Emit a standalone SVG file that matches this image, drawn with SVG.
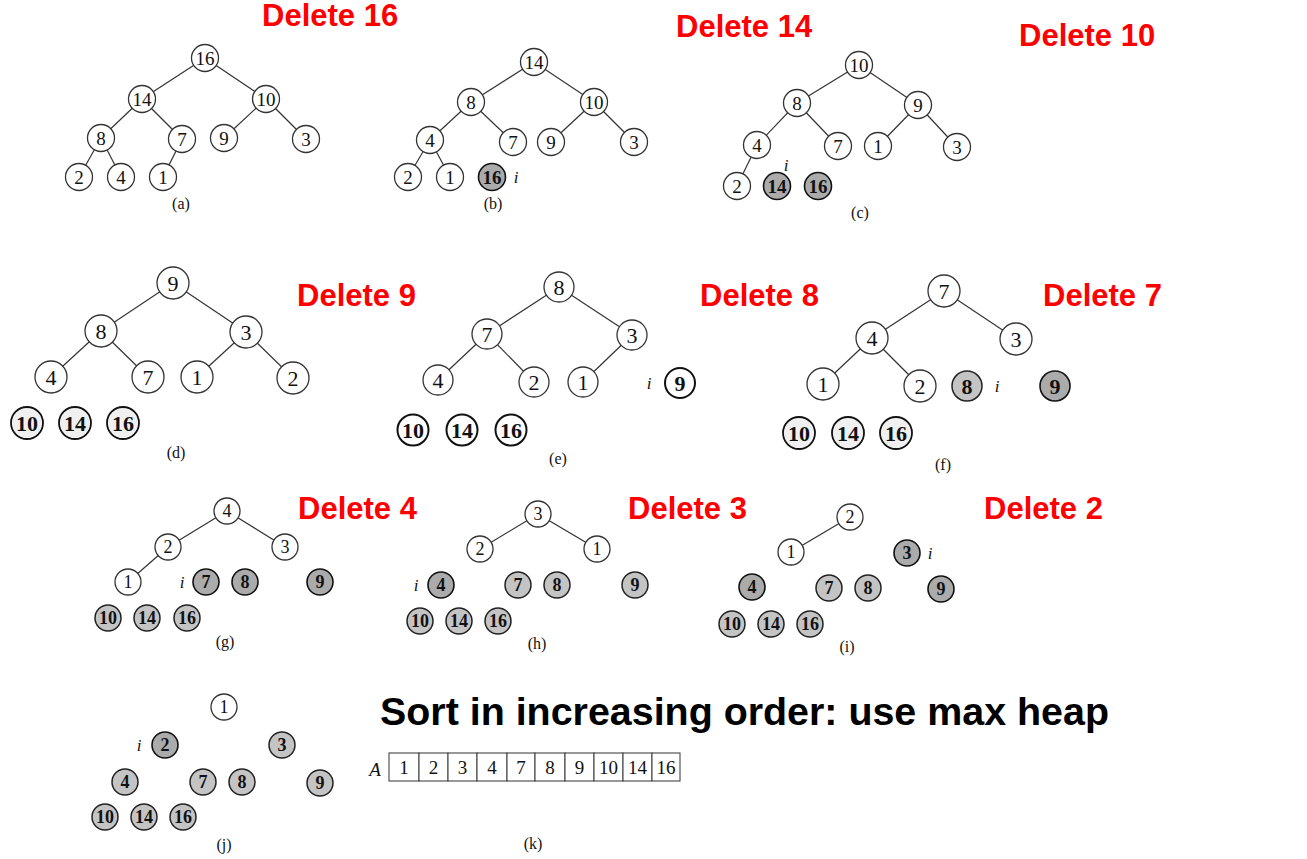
<svg xmlns="http://www.w3.org/2000/svg" width="1307" height="859" viewBox="0 0 1307 859">
<style>
.bg{fill:#fff}
.n circle{fill:#fff;stroke:#333;stroke-width:1.3}
.s circle{fill:#c4c4c4;stroke:#222;stroke-width:1.5}
.k circle{fill:#ababab;stroke:#111;stroke-width:1.6}
.l circle{fill:#f0f0f0;stroke:#111;stroke-width:1.8}
.w circle{fill:#fff;stroke:#111;stroke-width:2}
text{font-family:"Liberation Serif","Times New Roman",serif;text-anchor:middle;fill:#111}
.m text{font-size:19px}
.L text{font-size:22px}
.G text{font-size:18px}
.s text,.k text,.l text,.w text{font-weight:bold}
.lab{font-size:16px}
.it{font-style:italic;font-size:17px}
.red{font-family:"Liberation Sans",Arial,sans-serif;font-weight:bold;font-size:31px;fill:#f00;text-anchor:start}
.big{font-family:"Liberation Sans",Arial,sans-serif;font-weight:bold;font-size:39.4px;fill:#000;text-anchor:start}
#edges line{stroke:#333;stroke-width:1.2}
.cell{fill:#fff;stroke:#444;stroke-width:1.1}
.arr text{font-size:19px}
</style>
<rect class="bg" width="1307" height="859"/>

<text class="red" x="262" y="26">Delete 16</text>
<text class="red" x="676" y="37">Delete 14</text>
<text class="red" x="1019" y="46">Delete 10</text>
<text class="red" x="297" y="306">Delete 9</text>
<text class="red" x="700" y="306">Delete 8</text>
<text class="red" x="1043" y="306">Delete 7</text>
<text class="red" x="298" y="519">Delete 4</text>
<text class="red" x="628" y="519">Delete 3</text>
<text class="red" x="984" y="519">Delete 2</text>
<text class="big" x="380" y="725">Sort in increasing order: use max heap</text>

<g id="edges">
<!-- a -->
<line x1="205" y1="58" x2="142" y2="99"/><line x1="205" y1="58" x2="266" y2="99"/>
<line x1="142" y1="99" x2="101" y2="138"/><line x1="142" y1="99" x2="182" y2="139"/>
<line x1="266" y1="99" x2="224" y2="138"/><line x1="266" y1="99" x2="306" y2="139"/>
<line x1="101" y1="138" x2="79" y2="177"/><line x1="101" y1="138" x2="121" y2="177"/>
<line x1="182" y1="139" x2="163" y2="177"/>
<!-- b -->
<line x1="534" y1="62" x2="471" y2="102"/><line x1="534" y1="62" x2="594" y2="102"/>
<line x1="471" y1="102" x2="430" y2="140"/><line x1="471" y1="102" x2="513" y2="142"/>
<line x1="594" y1="102" x2="551" y2="142"/><line x1="594" y1="102" x2="634" y2="142"/>
<line x1="430" y1="140" x2="408" y2="177"/><line x1="430" y1="140" x2="450" y2="177"/>
<!-- c -->
<line x1="859" y1="65" x2="797" y2="103"/><line x1="859" y1="65" x2="918" y2="105"/>
<line x1="797" y1="103" x2="757" y2="145"/><line x1="797" y1="103" x2="838" y2="146"/>
<line x1="918" y1="105" x2="878" y2="146"/><line x1="918" y1="105" x2="957" y2="147"/>
<line x1="757" y1="145" x2="737" y2="186"/>
<!-- d -->
<line x1="173" y1="283" x2="101" y2="331"/><line x1="173" y1="283" x2="246" y2="332"/>
<line x1="101" y1="331" x2="51" y2="377"/><line x1="101" y1="331" x2="148" y2="377"/>
<line x1="246" y1="332" x2="197" y2="377"/><line x1="246" y1="332" x2="293" y2="378"/>
<!-- e -->
<line x1="559" y1="287" x2="487" y2="334"/><line x1="559" y1="287" x2="632" y2="335"/>
<line x1="487" y1="334" x2="438" y2="380"/><line x1="487" y1="334" x2="534" y2="382"/>
<line x1="632" y1="335" x2="583" y2="382"/>
<!-- f -->
<line x1="944" y1="291" x2="872" y2="338"/><line x1="944" y1="291" x2="1016" y2="339"/>
<line x1="872" y1="338" x2="823" y2="384"/><line x1="872" y1="338" x2="920" y2="386"/>
<!-- g -->
<line x1="227" y1="511" x2="168" y2="547"/><line x1="227" y1="511" x2="285" y2="547"/>
<line x1="168" y1="547" x2="128" y2="582"/>
<!-- h -->
<line x1="538" y1="514" x2="480" y2="549"/><line x1="538" y1="514" x2="597" y2="549"/>
<!-- i -->
<line x1="850" y1="517" x2="791" y2="552"/>
</g>

<!-- panel a -->
<g class="m">
<g id="a16" class="n"><circle cx="205" cy="58" r="13.5"/><text x="205" y="64.5">16</text></g>
<g id="a14" class="n"><circle cx="142" cy="99" r="13.5"/><text x="142" y="105.5">14</text></g>
<g id="a10" class="n"><circle cx="266" cy="99" r="13.5"/><text x="266" y="105.5">10</text></g>
<g id="a8" class="n"><circle cx="101" cy="138" r="13.5"/><text x="101" y="144.5">8</text></g>
<g id="a7" class="n"><circle cx="182" cy="139" r="13.5"/><text x="182" y="145.5">7</text></g>
<g id="a9" class="n"><circle cx="224" cy="138" r="13.5"/><text x="224" y="144.5">9</text></g>
<g id="a3" class="n"><circle cx="306" cy="139" r="13.5"/><text x="306" y="145.5">3</text></g>
<g id="a2" class="n"><circle cx="79" cy="177" r="13.5"/><text x="79" y="183.5">2</text></g>
<g id="a4" class="n"><circle cx="121" cy="177" r="13.5"/><text x="121" y="183.5">4</text></g>
<g id="a1" class="n"><circle cx="163" cy="177" r="13.5"/><text x="163" y="183.5">1</text></g>
</g>
<text class="lab" x="181" y="209">(a)</text>

<!-- panel b -->
<g class="m">
<g id="b14" class="n"><circle cx="534" cy="62" r="13.5"/><text x="534" y="68.5">14</text></g>
<g id="b8" class="n"><circle cx="471" cy="102" r="13.5"/><text x="471" y="108.5">8</text></g>
<g id="b10" class="n"><circle cx="594" cy="102" r="13.5"/><text x="594" y="108.5">10</text></g>
<g id="b4" class="n"><circle cx="430" cy="140" r="13.5"/><text x="430" y="146.5">4</text></g>
<g id="b7" class="n"><circle cx="513" cy="142" r="13.5"/><text x="513" y="148.5">7</text></g>
<g id="b9" class="n"><circle cx="551" cy="142" r="13.5"/><text x="551" y="148.5">9</text></g>
<g id="b3" class="n"><circle cx="634" cy="142" r="13.5"/><text x="634" y="148.5">3</text></g>
<g id="b2" class="n"><circle cx="408" cy="177" r="13.5"/><text x="408" y="183.5">2</text></g>
<g id="b1" class="n"><circle cx="450" cy="177" r="13.5"/><text x="450" y="183.5">1</text></g>
<g id="b16" class="k"><circle cx="492" cy="177" r="13.5"/><text x="492" y="183.5">16</text></g>
</g>
<text class="it" x="516" y="183">i</text>
<text class="lab" x="493" y="209">(b)</text>

<!-- panel c -->
<g class="m">
<g id="c10" class="n"><circle cx="859" cy="65" r="13.5"/><text x="859" y="71.5">10</text></g>
<g id="c8" class="n"><circle cx="797" cy="103" r="13.5"/><text x="797" y="109.5">8</text></g>
<g id="c9" class="n"><circle cx="918" cy="105" r="13.5"/><text x="918" y="111.5">9</text></g>
<g id="c4" class="n"><circle cx="757" cy="145" r="13.5"/><text x="757" y="151.5">4</text></g>
<g id="c7" class="n"><circle cx="838" cy="146" r="13.5"/><text x="838" y="152.5">7</text></g>
<g id="c1" class="n"><circle cx="878" cy="146" r="13.5"/><text x="878" y="152.5">1</text></g>
<g id="c3" class="n"><circle cx="957" cy="147" r="13.5"/><text x="957" y="153.5">3</text></g>
<g id="c2" class="n"><circle cx="737" cy="186" r="13.5"/><text x="737" y="192.5">2</text></g>
<g id="c14" class="k"><circle cx="777" cy="186" r="13.5"/><text x="777" y="192.5">14</text></g>
<g id="c16" class="k"><circle cx="818" cy="186" r="13.5"/><text x="818" y="192.5">16</text></g>
</g>
<text class="it" x="786" y="171">i</text>
<text class="lab" x="860" y="218">(c)</text>

<!-- panel d -->
<g class="L">
<g id="d9" class="n"><circle cx="173" cy="283" r="16"/><text x="173" y="290.5">9</text></g>
<g id="d8" class="n"><circle cx="101" cy="331" r="16"/><text x="101" y="338.5">8</text></g>
<g id="d3" class="n"><circle cx="246" cy="332" r="16"/><text x="246" y="339.5">3</text></g>
<g id="d4" class="n"><circle cx="51" cy="377" r="16"/><text x="51" y="384.5">4</text></g>
<g id="d7" class="n"><circle cx="148" cy="377" r="16"/><text x="148" y="384.5">7</text></g>
<g id="d1" class="n"><circle cx="197" cy="377" r="16"/><text x="197" y="384.5">1</text></g>
<g id="d2" class="n"><circle cx="293" cy="378" r="16"/><text x="293" y="385.5">2</text></g>
<g id="d10" class="l"><circle cx="27" cy="423" r="16"/><text x="27" y="430.5">10</text></g>
<g id="d14" class="l"><circle cx="75" cy="423" r="16"/><text x="75" y="430.5">14</text></g>
<g id="d16" class="l"><circle cx="123" cy="423" r="16"/><text x="123" y="430.5">16</text></g>
</g>
<text class="lab" x="176" y="458">(d)</text>

<!-- panel e -->
<g class="L">
<g id="e8" class="n"><circle cx="559" cy="287" r="15"/><text x="559" y="294.5">8</text></g>
<g id="e7" class="n"><circle cx="487" cy="334" r="15"/><text x="487" y="341.5">7</text></g>
<g id="e3" class="n"><circle cx="632" cy="335" r="15"/><text x="632" y="342.5">3</text></g>
<g id="e4" class="n"><circle cx="438" cy="380" r="15"/><text x="438" y="387.5">4</text></g>
<g id="e2" class="n"><circle cx="534" cy="382" r="15"/><text x="534" y="389.5">2</text></g>
<g id="e1" class="n"><circle cx="583" cy="382" r="15"/><text x="583" y="389.5">1</text></g>
<g id="e9" class="w"><circle cx="680" cy="383" r="15"/><text x="680" y="390.5">9</text></g>
<g id="e10" class="w"><circle cx="413" cy="430" r="15.5"/><text x="413" y="437.5">10</text></g>
<g id="e14" class="w"><circle cx="462" cy="430" r="15.5"/><text x="462" y="437.5">14</text></g>
<g id="e16" class="w"><circle cx="511" cy="430" r="15.5"/><text x="511" y="437.5">16</text></g>
</g>
<text class="it" x="649" y="389">i</text>
<text class="lab" x="558" y="464">(e)</text>

<!-- panel f -->
<g class="L">
<g id="f7" class="n"><circle cx="944" cy="291" r="16"/><text x="944" y="298.5">7</text></g>
<g id="f4" class="n"><circle cx="872" cy="338" r="16"/><text x="872" y="345.5">4</text></g>
<g id="f3" class="n"><circle cx="1016" cy="339" r="16"/><text x="1016" y="346.5">3</text></g>
<g id="f1" class="n"><circle cx="823" cy="384" r="16"/><text x="823" y="391.5">1</text></g>
<g id="f2" class="n"><circle cx="920" cy="386" r="16"/><text x="920" y="393.5">2</text></g>
<g id="f8" class="s"><circle cx="967" cy="386" r="15"/><text x="967" y="393.5">8</text></g>
<g id="f9" class="k"><circle cx="1055" cy="386" r="15"/><text x="1055" y="393.5">9</text></g>
<g id="f10" class="l"><circle cx="799" cy="433" r="16"/><text x="799" y="440.5">10</text></g>
<g id="f14" class="l"><circle cx="848" cy="433" r="16"/><text x="848" y="440.5">14</text></g>
<g id="f16" class="l"><circle cx="896" cy="433" r="16"/><text x="896" y="440.5">16</text></g>
</g>
<text class="it" x="997" y="392">i</text>
<text class="lab" x="943" y="470">(f)</text>

<!-- panel g -->
<g class="G">
<g id="g4" class="n"><circle cx="227" cy="511" r="13"/><text x="227" y="517">4</text></g>
<g id="g2" class="n"><circle cx="168" cy="547" r="13"/><text x="168" y="553">2</text></g>
<g id="g3" class="n"><circle cx="285" cy="547" r="13"/><text x="285" y="553">3</text></g>
<g id="g1" class="n"><circle cx="128" cy="582" r="13"/><text x="128" y="588">1</text></g>
<g id="g7" class="k"><circle cx="206" cy="582" r="13"/><text x="206" y="588">7</text></g>
<g id="g8" class="k"><circle cx="245" cy="582" r="13"/><text x="245" y="588">8</text></g>
<g id="g9" class="k"><circle cx="320" cy="582" r="13"/><text x="320" y="588">9</text></g>
<g id="g10" class="s"><circle cx="108" cy="618" r="13"/><text x="108" y="624">10</text></g>
<g id="g14" class="s"><circle cx="147" cy="618" r="13"/><text x="147" y="624">14</text></g>
<g id="g16" class="s"><circle cx="187" cy="618" r="13"/><text x="187" y="624">16</text></g>
</g>
<text class="it" x="182" y="588">i</text>
<text class="lab" x="225" y="647">(g)</text>

<!-- panel h -->
<g class="G">
<g id="h3" class="n"><circle cx="538" cy="514" r="13"/><text x="538" y="520">3</text></g>
<g id="h2" class="n"><circle cx="480" cy="549" r="13"/><text x="480" y="555">2</text></g>
<g id="h1" class="n"><circle cx="597" cy="549" r="13"/><text x="597" y="555">1</text></g>
<g id="h4" class="k"><circle cx="441" cy="585" r="13"/><text x="441" y="591">4</text></g>
<g id="h7" class="s"><circle cx="518" cy="585" r="13"/><text x="518" y="591">7</text></g>
<g id="h8" class="s"><circle cx="557" cy="585" r="13"/><text x="557" y="591">8</text></g>
<g id="h9" class="s"><circle cx="635" cy="585" r="13"/><text x="635" y="591">9</text></g>
<g id="h10" class="s"><circle cx="420" cy="621" r="13"/><text x="420" y="627">10</text></g>
<g id="h14" class="s"><circle cx="459" cy="621" r="13"/><text x="459" y="627">14</text></g>
<g id="h16" class="s"><circle cx="498" cy="621" r="13"/><text x="498" y="627">16</text></g>
</g>
<text class="it" x="416" y="591">i</text>
<text class="lab" x="537" y="649">(h)</text>

<!-- panel i -->
<g class="G">
<g id="i2" class="n"><circle cx="850" cy="517" r="13"/><text x="850" y="523">2</text></g>
<g id="i1" class="n"><circle cx="791" cy="552" r="13"/><text x="791" y="558">1</text></g>
<g id="i3" class="k"><circle cx="907" cy="553" r="13"/><text x="907" y="559">3</text></g>
<g id="i4" class="k"><circle cx="752" cy="587" r="13"/><text x="752" y="593">4</text></g>
<g id="i7" class="s"><circle cx="829" cy="588" r="13"/><text x="829" y="594">7</text></g>
<g id="i8" class="s"><circle cx="868" cy="588" r="13"/><text x="868" y="594">8</text></g>
<g id="i9" class="k"><circle cx="941" cy="589" r="13"/><text x="941" y="595">9</text></g>
<g id="i10" class="s"><circle cx="732" cy="624" r="13"/><text x="732" y="630">10</text></g>
<g id="i14" class="s"><circle cx="771" cy="624" r="13"/><text x="771" y="630">14</text></g>
<g id="i16" class="s"><circle cx="810" cy="624" r="13"/><text x="810" y="630">16</text></g>
</g>
<text class="it" x="930" y="559">i</text>
<text class="lab" x="847" y="652">(i)</text>

<!-- panel j -->
<g class="G">
<g id="j1" class="n"><circle cx="224" cy="707" r="13"/><text x="224" y="713">1</text></g>
<g id="j2" class="k"><circle cx="165" cy="745" r="13"/><text x="165" y="751">2</text></g>
<g id="j3" class="s"><circle cx="282" cy="745" r="13"/><text x="282" y="751">3</text></g>
<g id="j4" class="s"><circle cx="125" cy="782" r="13"/><text x="125" y="788">4</text></g>
<g id="j7" class="s"><circle cx="203" cy="782" r="13"/><text x="203" y="788">7</text></g>
<g id="j8" class="s"><circle cx="242" cy="782" r="13"/><text x="242" y="788">8</text></g>
<g id="j9" class="s"><circle cx="320" cy="783" r="13"/><text x="320" y="789">9</text></g>
<g id="j10" class="s"><circle cx="105" cy="817" r="13"/><text x="105" y="823">10</text></g>
<g id="j14" class="s"><circle cx="144" cy="817" r="13"/><text x="144" y="823">14</text></g>
<g id="j16" class="s"><circle cx="183" cy="817" r="13"/><text x="183" y="823">16</text></g>
</g>
<text class="it" x="139" y="751">i</text>
<text class="lab" x="224" y="850">(j)</text>

<!-- panel k: array -->
<g id="arrayA" class="arr">
<text class="it" x="375" y="776">A</text>
<rect class="cell" x="389" y="753" width="30" height="28"/>
<rect class="cell" x="419" y="753" width="29" height="28"/>
<rect class="cell" x="448" y="753" width="29" height="28"/>
<rect class="cell" x="477" y="753" width="30" height="28"/>
<rect class="cell" x="507" y="753" width="28" height="28"/>
<rect class="cell" x="535" y="753" width="30" height="28"/>
<rect class="cell" x="565" y="753" width="29" height="28"/>
<rect class="cell" x="594" y="753" width="29" height="28"/>
<rect class="cell" x="623" y="753" width="29" height="28"/>
<rect class="cell" x="652" y="753" width="28" height="28"/>
<text x="404" y="774">1</text>
<text x="433.5" y="774">2</text>
<text x="462.5" y="774">3</text>
<text x="492" y="774">4</text>
<text x="521" y="774">7</text>
<text x="550" y="774">8</text>
<text x="579.5" y="774">9</text>
<text x="608.5" y="774">10</text>
<text x="637.5" y="774">14</text>
<text x="666" y="774">16</text>
</g>
<text class="lab" x="533" y="849">(k)</text>
</svg>
